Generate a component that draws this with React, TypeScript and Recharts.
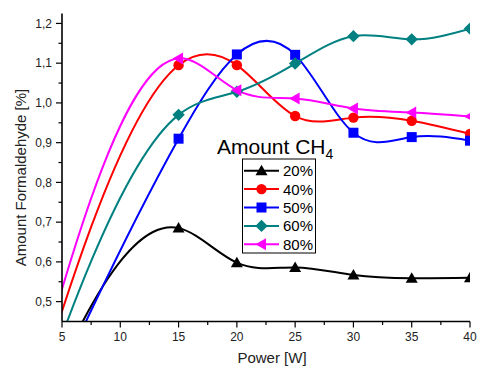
import React from "react";
import { LineChart, Line, XAxis, YAxis, Legend } from "recharts";

// Formaldehyde yield vs. discharge power, one series per CH4 share
const power = [0, 15, 20, 25, 30, 35, 40];
const ch4_20 = [0, 0.685, 0.598, 0.586, 0.567, 0.559, 0.56];
const ch4_40 = [0, 1.095, 1.095, 0.967, 0.963, 0.955, 0.922];
const ch4_50 = [0, 0.91, 1.122, 1.121, 0.925, 0.914, 0.905];
const ch4_60 = [0, 0.97, 1.028, 1.099, 1.168, 1.16, 1.187];
const ch4_80 = [0, 1.112, 1.032, 1.011, 0.986, 0.976, 0.966];

const xTicks = [5, 7.5, 10, 12.5, 15, 17.5, 20, 22.5, 25, 27.5, 30, 32.5, 35, 37.5, 40];
const yTicks = [0.5, 0.55, 0.6, 0.65, 0.7, 0.75, 0.8, 0.85, 0.9, 0.95, 1.0, 1.05, 1.1, 1.15, 1.2];

const series = [
  { key: "c20", name: "20%", color: "#000000", shape: "triUp", values: ch4_20 },
  { key: "c40", name: "40%", color: "#ff0000", shape: "circle", values: ch4_40 },
  { key: "c50", name: "50%", color: "#0000ff", shape: "square", values: ch4_50 },
  { key: "c60", name: "60%", color: "#008080", shape: "diamond", values: ch4_60 },
  { key: "c80", name: "80%", color: "#ff00ff", shape: "triLeft", values: ch4_80 },
];

const rows = power.map((p, i) => {
  const row: Record<string, number> = { power: p };
  series.forEach((s) => (row[s.key] = s.values[i]));
  return row;
});

const FONT = "'Liberation Sans', Arial, sans-serif";

// natural cubic spline through the points (y as a function of x)
function splineCurve(context: any) {
  let xs: number[] = [];
  let ys: number[] = [];
  return {
    areaStart() {},
    areaEnd() {},
    lineStart() {
      xs = [];
      ys = [];
    },
    point(x: number, y: number) {
      xs.push(+x);
      ys.push(+y);
    },
    lineEnd() {
      const n = xs.length;
      if (!n) return;
      context.moveTo(xs[0], ys[0]);
      if (n < 3) {
        for (let i = 1; i < n; i++) context.lineTo(xs[i], ys[i]);
        return;
      }
      const h: number[] = [];
      for (let i = 0; i < n - 1; i++) h[i] = xs[i + 1] - xs[i];
      const b: number[] = [];
      const c: number[] = [];
      const d: number[] = [];
      const a: number[] = [];
      for (let i = 1; i < n - 1; i++) {
        a[i] = h[i - 1];
        b[i] = 2 * (h[i - 1] + h[i]);
        c[i] = h[i];
        d[i] = 6 * ((ys[i + 1] - ys[i]) / h[i] - (ys[i] - ys[i - 1]) / h[i - 1]);
      }
      for (let i = 2; i < n - 1; i++) {
        const w = a[i] / b[i - 1];
        b[i] -= w * c[i - 1];
        d[i] -= w * d[i - 1];
      }
      const m = new Array(n).fill(0);
      for (let i = n - 2; i >= 1; i--) m[i] = (d[i] - c[i] * m[i + 1]) / b[i];
      for (let i = 0; i < n - 1; i++) {
        const hi = h[i];
        const s = (ys[i + 1] - ys[i]) / hi;
        const d0 = s - (hi * (2 * m[i] + m[i + 1])) / 6;
        const d1 = s + (hi * (m[i] + 2 * m[i + 1])) / 6;
        context.bezierCurveTo(
          xs[i] + hi / 3,
          ys[i] + (d0 * hi) / 3,
          xs[i + 1] - hi / 3,
          ys[i + 1] - (d1 * hi) / 3,
          xs[i + 1],
          ys[i + 1]
        );
      }
    },
  };
}

function Marker({ shape, x, y, color }: { shape: string; x: number; y: number; color: string }) {
  switch (shape) {
    case "triUp":
      return <polygon points={`${x},${y - 6} ${x - 6},${y + 4.5} ${x + 6},${y + 4.5}`} fill={color} />;
    case "circle":
      return <circle cx={x} cy={y} r={5.2} fill={color} />;
    case "square":
      return <rect x={x - 5} y={y - 5} width={10} height={10} fill={color} />;
    case "diamond":
      return <polygon points={`${x},${y - 6.2} ${x + 6.2},${y} ${x},${y + 6.2} ${x - 6.2},${y}`} fill={color} />;
    default:
      return <polygon points={`${x - 6},${y} ${x + 4.5},${y - 6} ${x + 4.5},${y + 6}`} fill={color} />;
  }
}

const makeDot = (shape: string, color: string) => (props: any) => {
  const { cx, cy, index, payload } = props;
  if (payload.power < 5 || cx == null) return <g key={`d${index}`} />;
  return (
    <g key={`d${index}`}>
      <Marker shape={shape} x={cx} y={cy} color={color} />
    </g>
  );
};

const isMajor = (v: number, step: number) => Math.abs(v / step - Math.round(v / step)) < 1e-6;

const XTick = (props: any) => {
  const { x, y, payload } = props;
  const major = isMajor(payload.value, 5);
  return (
    <g>
      <line x1={x} x2={x} y1={y} y2={y + (major ? 6 : 3.5)} stroke="#000" strokeWidth={1.2} />
      {major && (
        <text x={x} y={y + 19.5} textAnchor="middle" fontSize={12} fontFamily={FONT} fill="#222">
          {payload.value}
        </text>
      )}
    </g>
  );
};

const YTick = (props: any) => {
  const { x, y, payload } = props;
  const major = isMajor(payload.value, 0.1);
  return (
    <g>
      <line x1={x - (major ? 6 : 3.5)} x2={x} y1={y} y2={y} stroke="#000" strokeWidth={1.2} />
      {major && (
        <text x={x - 10} y={y + 4.3} textAnchor="end" fontSize={12} fontFamily={FONT} fill="#222">
          {payload.value.toFixed(1).replace(".", ",")}
        </text>
      )}
    </g>
  );
};

const renderLegend = (props: any) => {
  const items = props.payload || [];
  const boxX = 242.5;
  const boxY = 159;
  return (
    <svg width={480} height={367} style={{ display: "block" }}>
      <text x={217} y={154} fontSize={21} fontFamily={FONT} fill="#000">
        Amount CH
        <tspan fontSize={14} dy={5}>
          4
        </tspan>
      </text>
      <rect x={boxX} y={boxY} width={73} height={94} fill="#fff" stroke="#000" strokeWidth={1} />
      {items.map((item: any, i: number) => {
        const s = series.find((q) => q.name === item.value) || series[i];
        const cy = 170.7 + i * 18.4;
        return (
          <g key={s.key}>
            <line x1={244} x2={279} y1={cy} y2={cy} stroke={s.color} strokeWidth={2} />
            <Marker shape={s.shape} x={261.5} y={cy} color={s.color} />
            <text x={283} y={cy + 5.5} fontSize={15} fontFamily={FONT} fill="#000">
              {s.name}
            </text>
          </g>
        );
      })}
    </svg>
  );
};

export default function App() {
  return (
    <div style={{ position: "relative", width: 480, height: 367, background: "#fff" }}>
      <style>{`body{margin:0;background:#fff}`}</style>
      <LineChart width={480} height={367} data={rows} margin={{ top: 13.5, right: 10, left: 0, bottom: 0 }}>
        <XAxis
          dataKey="power"
          type="number"
          domain={[5, 40]}
          allowDataOverflow
          ticks={xTicks}
          interval={0}
          height={45.5}
          tickSize={0}
          tickMargin={0}
          tickLine={false}
          tick={<XTick />}
          axisLine={{ stroke: "#000", strokeWidth: 1.6 }}
          label={{
            content: () => (
              <text x={272} y={363} textAnchor="middle" fontSize={15} fontFamily={FONT} fill="#222">
                Power [W]
              </text>
            ),
          }}
        />
        <YAxis
          type="number"
          domain={[0.45, 1.225]}
          allowDataOverflow
          ticks={yTicks}
          interval={0}
          width={62}
          tickSize={0}
          tickMargin={0}
          tickLine={false}
          tick={<YTick />}
          axisLine={{ stroke: "#000", strokeWidth: 1.6 }}
          label={{
            content: () => (
              <text
                x={25.5}
                y={177.5}
                transform="rotate(-90 25.5 177.5)"
                textAnchor="middle"
                fontSize={15}
                fontFamily={FONT}
                fill="#222"
              >
                Amount Formaldehyde [%]
              </text>
            ),
          }}
        />
        <Legend
          layout="vertical"
          align="center"
          verticalAlign="middle"
          content={renderLegend}
          wrapperStyle={{ left: 0, top: 0, width: 480, height: 367, pointerEvents: "none" }}
        />
        {series.map((s) => (
          <Line
            key={s.key}
            dataKey={s.key}
            name={s.name}
            stroke={s.color}
            strokeWidth={2}
            type={splineCurve as any}
            dot={makeDot(s.shape, s.color)}
            activeDot={false}
            isAnimationActive={false}
          />
        ))}
      </LineChart>
    </div>
  );
}
